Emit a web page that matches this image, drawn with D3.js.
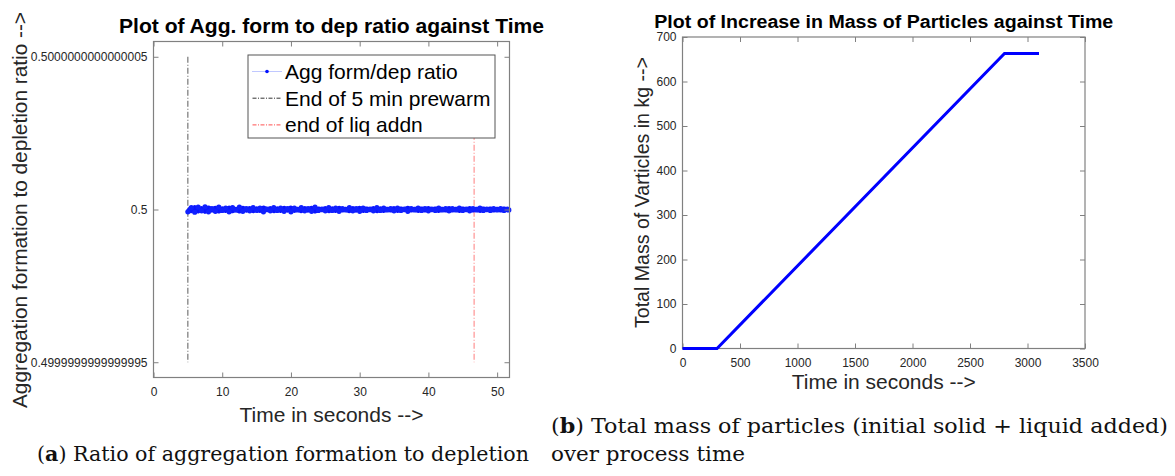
<!DOCTYPE html>
<html>
<head>
<meta charset="utf-8">
<script src="https://cdn.jsdelivr.net/npm/d3@7"></script>
<style>
  body { margin: 0; background: #fff; }
  svg { display: block; font-family: "Liberation Sans", Arial, sans-serif; }
  .tick text { fill: #262626; }
</style>
</head>
<body>
<div id="chart"></div>
<script>
// ---- data: panel (a) ----
// time in seconds for the ratio samples
var ratioTime = [5, 5.5, 6, 6.5, 7, 7.5, 8, 8.5, 9, 9.5, 10, 10.5, 11, 11.5, 12, 12.5, 13, 13.5, 14, 14.5,
  15, 15.5, 16, 16.5, 17, 17.5, 18, 18.5, 19, 19.5, 20, 20.5, 21, 21.5, 22, 22.5, 23, 23.5, 24, 24.5,
  25, 25.5, 26, 26.5, 27, 27.5, 28, 28.5, 29, 29.5, 30, 30.5, 31, 31.5, 32, 32.5, 33, 33.5, 34, 34.5,
  35, 35.5, 36, 36.5, 37, 37.5, 38, 38.5, 39, 39.5, 40, 40.5, 41, 41.5, 42, 42.5, 43, 43.5, 44, 44.5,
  45, 45.5, 46, 46.5, 47, 47.5, 48, 48.5, 49, 49.5, 50, 50.5, 51, 51.5, 51.7];
// deviation of the ratio from 0.5, in units of 1e-16
var ratioDev = [0.05, -0.04, 0.06, -0.05, 0.03, -0.06, 0.05, -0.02, 0.04, -0.05, 0.02, -0.03, 0.05, -0.04, 0.01, -0.05, 0.04, -0.02, 0.03, -0.04,
  0.02, -0.03, 0.05, -0.01, 0.03, -0.04, 0.02, -0.03, 0.04, -0.02, 0.05, -0.03, 0.01, -0.04, 0.03, -0.02, 0.04, -0.05, 0.02, -0.01,
  0.03, -0.04, 0.02, -0.03, 0.04, -0.02, 0.01, -0.04, 0.03, -0.02, 0.04, -0.03, 0.02, -0.01, 0.03, -0.04, 0.02, -0.03, 0.01, -0.02,
  0.03, -0.03, 0.02, -0.01, 0.04, -0.02, 0.01, -0.03, 0.02, -0.02, 0.03, -0.01, 0.02, -0.03, 0.01, -0.02, 0.03, -0.02, 0.01, -0.03,
  0.02, -0.01, 0.03, -0.02, 0.01, -0.03, 0.02, -0.01, 0.02, -0.02, 0.01, -0.02, 0.02, -0.01, 0.01];
var markerTimes = [5, 46.65];           // end of prewarm, end of liquid addition
var legendLabels = ["Agg form/dep ratio", "End of 5 min prewarm", "end of liq addn"];
var ratioTicks = [-5, 0, 5];
var ratioTickLabels = ["0.4" + "9999999" + "9999999" + "5", "0.5", "0.5" + "0000000" + "0000000" + "5"];
var timeTicksA = [0, 10, 20, 30, 40, 50];

// ---- data: panel (b) ----
var massTime = [0, 300, 2800, 3100];
var massKg = [0, 0, 663, 663];
var timeTicksB = [0, 500, 1000, 1500, 2000, 2500, 3000, 3500];
var massTicks = [0, 100, 200, 300, 400, 500, 600, 700];

var svgWidth = 1175;
var svgHeight = 476;

var svg = d3.select("#chart")
    .append("svg")
    .attr("width", svgWidth)
    .attr("height", svgHeight);

var frameColor = "#808080";
var tickLen = 5;

// draws a MATLAB-like box with inward ticks on all four sides
function drawBox(g, x, y, w, h, xTicks, yTicks, xLabels, yLabels) {
    g.append("rect")
        .attr("x", 0).attr("y", 0)
        .attr("width", w).attr("height", h)
        .attr("fill", "none")
        .attr("stroke", frameColor)
        .attr("stroke-width", 1.2);

    var bottom = g.append("g")
        .attr("transform", `translate(0, ${h})`)
        .call(d3.axisBottom(x).tickValues(xTicks).tickSizeInner(-tickLen).tickSizeOuter(0)
            .tickPadding(10).tickFormat(xLabels));
    var top = g.append("g")
        .call(d3.axisTop(x).tickValues(xTicks).tickSizeInner(-tickLen).tickSizeOuter(0).tickFormat(""));
    var left = g.append("g")
        .call(d3.axisLeft(y).tickValues(yTicks).tickSizeInner(-tickLen).tickSizeOuter(0)
            .tickPadding(6).tickFormat(yLabels));
    var right = g.append("g")
        .attr("transform", `translate(${w}, 0)`)
        .call(d3.axisRight(y).tickValues(yTicks).tickSizeInner(-tickLen).tickSizeOuter(0).tickFormat(""));

    [bottom, top, left, right].forEach(function(a) {
        a.select(".domain").remove();
        a.selectAll(".tick line").attr("stroke", frameColor);
        a.selectAll(".tick text")
            .attr("font-size", 12)
            .attr("font-family", "Liberation Sans, Arial, sans-serif");
    });
}

// helper for text with a fixed width, like the figure's
function label(x, y, str, size, len, opts) {
    opts = opts || {};
    var t = svg.append("text")
        .attr("text-anchor", opts.anchor || "middle")
        .attr("font-size", size)
        .attr("fill", opts.fill || "#262626")
        .attr("textLength", len)
        .attr("lengthAdjust", "spacingAndGlyphs")
        .text(str);
    if (opts.rotate) t.attr("transform", `translate(${x}, ${y}) rotate(-90)`);
    else t.attr("x", x).attr("y", y);
    if (opts.bold) t.attr("font-weight", "bold");
    return t;
}

// ================= panel (a) =================
var mA = { left: 153.5, top: 41.5 };
var wA = 356, hA = 336;
var gA = svg.append("g").attr("transform", `translate(${mA.left}, ${mA.top})`);

var xA = d3.scaleLinear().domain([0, 51.8]).range([0, wA]);
var yA = d3.scaleLinear().domain([-5.5, 5.5]).range([hA, 0]);

// vertical event lines
var lineColors = ["#333333", "#ff3030"];
gA.selectAll(".event")
    .data(markerTimes)
    .enter()
    .append("line")
    .attr("class", "event")
    .attr("x1", d => xA(d)).attr("x2", d => xA(d))
    .attr("y1", yA(5)).attr("y2", yA(-5))
    .attr("stroke", (d, i) => lineColors[i])
    .attr("stroke-opacity", (d, i) => i === 0 ? 0.9 : 0.7)
    .attr("stroke-width", 0.9)
    .attr("stroke-dasharray", "6,2,1,2");

// the ratio band
var ratioData = ratioTime.map((t, i) => ({ t: t, v: ratioDev[i] }));
gA.append("path")
    .datum(ratioData)
    .attr("fill", "none")
    .attr("stroke", "#0a14ff")
    .attr("stroke-width", 5)
    .attr("stroke-linejoin", "round")
    .attr("d", d3.line().x(d => xA(d.t)).y(d => yA(d.v)));
gA.selectAll(".pt")
    .data(ratioData)
    .enter()
    .append("circle")
    .attr("class", "pt")
    .attr("cx", d => xA(d.t))
    .attr("cy", d => yA(d.v * -1.5))
    .attr("r", 2.6)
    .attr("fill", "#1020ff");

drawBox(gA, xA, yA, wA, hA, timeTicksA, ratioTicks,
    d => d, (d, i) => ratioTickLabels[i]);

// legend
var legA = gA.append("g").attr("transform", `translate(${248 - mA.left}, ${55 - mA.top})`);
legA.append("rect")
    .attr("width", 247).attr("height", 83)
    .attr("fill", "#fff")
    .attr("stroke", "#555")
    .attr("stroke-width", 1);
var legItems = legA.selectAll(".leg")
    .data(legendLabels)
    .enter()
    .append("g")
    .attr("class", "leg")
    .attr("transform", (d, i) => `translate(0, ${16.5 + i * 26.7})`);
legItems.append("line")
    .attr("x1", 4.5).attr("x2", 33.5)
    .attr("stroke", (d, i) => ["#8090ff", "#333333", "#ff5050"][i])
    .attr("stroke-width", 1)
    .attr("stroke-dasharray", (d, i) => i === 0 ? "1,1" : "4,1.5,1,1.5");
legA.append("circle")
    .attr("cx", 19).attr("cy", 16.5).attr("r", 1.8).attr("fill", "#0010ff");
legItems.append("text")
    .attr("x", 37)
    .attr("dy", "0.36em")
    .attr("font-size", 21)
    .attr("fill", "#000")
    .text(d => d);

// titles and labels (a)
label(mA.left + wA / 2, 33, "Plot of Agg. form to dep ratio against Time", 19.5, 425, { bold: true, fill: "#000" });
label(mA.left + wA / 2, 422, "Time in seconds -->", 20, 184);
label(27, 210, "Aggregation formation to depletion ratio -->", 20.5, 396, { rotate: true });

// ================= panel (b) =================
var mB = { left: 682.5, top: 37 };
var wB = 402.5, hB = 311.5;
var gB = svg.append("g").attr("transform", `translate(${mB.left}, ${mB.top})`);

var xB = d3.scaleLinear().domain([0, 3500]).range([0, wB]);
var yB = d3.scaleLinear().domain([0, 700]).range([hB, 0]);

drawBox(gB, xB, yB, wB, hB, timeTicksB, massTicks, d => d, d => d);

gB.append("path")
    .datum(massTime.map((t, i) => ({ t: t, m: massKg[i] })))
    .attr("fill", "none")
    .attr("stroke", "#0000ff")
    .attr("stroke-width", 3)
    .attr("d", d3.line().x(d => xB(d.t)).y(d => yB(d.m)));

label(mB.left + wB / 2, 27.5, "Plot of Increase in Mass of Particles against Time", 17.5, 459, { bold: true, fill: "#000" });
label(mB.left + wB / 2, 389, "Time in seconds -->", 20, 184);
label(649, 192.5, "Total Mass of Varticles in kg -->", 20, 271, { rotate: true });

// ================= captions =================
var serif = "'DejaVu Serif', 'Liberation Serif', serif";
function caption(x, y, letter, rest, len) {
    var c = svg.append("text")
        .attr("x", x).attr("y", y)
        .attr("font-family", serif)
        .attr("font-size", 20.5)
        .attr("fill", "#111")
        .attr("textLength", len)
        .attr("lengthAdjust", "spacingAndGlyphs");
    if (letter) {
        c.append("tspan").text("(");
        c.append("tspan").attr("font-weight", "bold").text(letter);
        c.append("tspan").text(")" + rest);
    } else {
        c.text(rest);
    }
}
caption(37, 461, "a", " Ratio of aggregation formation to depletion", 492);
caption(551, 433, "b", " Total mass of particles (initial solid + liquid added)", 617);
caption(551, 461, null, "over process time", 194);
</script>
</body>
</html>
